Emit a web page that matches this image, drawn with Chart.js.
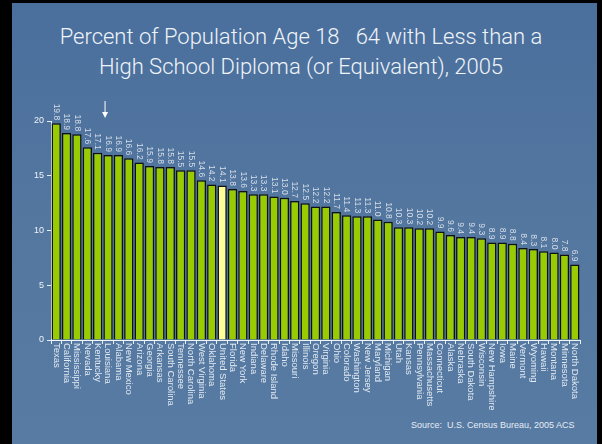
<!DOCTYPE html>
<html>
<head>
<meta charset="utf-8">
<script src="https://cdn.jsdelivr.net/npm/chart.js@4.4.0/dist/chart.umd.min.js"></script>
<style>
  html, body { margin: 0; padding: 0; background: #000; }
  #slide {
    position: absolute; left: 12px; top: 3px; width: 585px; height: 441px;
    background: linear-gradient(180deg, #4a6f9d 0%, #53779f 50%, #587ba3 100%);
  }
  #title {
    position: absolute; left: 0; top: 22px; width: 602px; text-align: center;
    font-family: Roboto, "Liberation Sans", sans-serif; font-size: 22px; font-weight: 300; line-height: 30px;
    color: #f0f4f8;
  }
  #source {
    position: absolute; left: 411px; top: 420px;
    font-family: "Liberation Sans", Arial, sans-serif; font-size: 9px; color: #e6edf5;
  }
  #wrap { position: absolute; left: 0; top: 0; width: 602px; height: 444px; }
</style>
</head>
<body>
<div id="slide"></div>
<div id="title">Percent of Population Age 18&nbsp;&nbsp;&nbsp;64 with Less than a<br>High School Diploma (or Equivalent), 2005</div>
<div id="source">Source:&nbsp; U.S. Census Bureau, 2005 ACS</div>
<div id="wrap"><canvas id="can" width="602" height="444"></canvas></div>
<script>
const states = ["Texas","California","Mississippi","Nevada","Kentucky","Louisiana","Alabama","New Mexico",
  "Arizona","Georgia","Arkansas","South Carolina","Tennessee","North Carolina","West Virginia","Oklahoma",
  "United States","Florida","New York","Indiana","Delaware","Rhode Island","Idaho","Missouri","Illinois",
  "Oregon","Virginia","Ohio","Colorado","Washington","New Jersey","Maryland","Michigan","Utah","Kansas",
  "Pennsylvania","Massachusetts","Connecticut","Alaska","Nebraska","South Dakota","Wisconsin",
  "New Hampshire","Iowa","Maine","Vermont","Wyoming","Hawaii","Montana","Minnesota","North Dakota"]
const percent = [19.8,18.9,18.8,17.6,17.1,16.9,16.9,16.6,16.2,15.9,15.8,15.8,15.5,15.5,14.6,14.2,
  14.1,13.8,13.6,13.3,13.3,13.1,13.0,12.7,12.5,12.2,12.2,11.7,11.4,11.3,11.3,11.0,10.8,10.3,10.3,
  10.2,10.2,9.9,9.6,9.4,9.4,9.3,8.9,8.9,8.8,8.4,8.3,8.1,8.0,7.8,6.9]
const yTicks = [0, 5, 10, 15, 20]

const barColors = states.map(s => s === "United States" ? "#ffff99" : "#99cc00")

// value labels above the bars + state names under the axis, both turned clockwise
const labelPlugin = {
  id: 'labels',
  afterDatasetsDraw(chart) {
    const ctx = chart.ctx
    const meta = chart.getDatasetMeta(0)
    const xs = chart.scales.x
    ctx.save()
    meta.data.forEach((bar, i) => {
      ctx.save()
      ctx.translate(bar.x, bar.y - 3)
      ctx.rotate(Math.PI / 2)
      ctx.font = '8.5px "Liberation Sans", Arial, sans-serif'
      ctx.fillStyle = '#d6dee9'
      ctx.textAlign = 'right'
      ctx.textBaseline = 'middle'
      ctx.fillText(percent[i].toFixed(1), 0, 0)
      ctx.restore()

      ctx.save()
      ctx.translate(xs.getPixelForValue(i), xs.top + 3)
      ctx.rotate(Math.PI / 2)
      ctx.font = '9.5px "Liberation Sans", Arial, sans-serif'
      ctx.fillStyle = '#e3eaf3'
      ctx.textAlign = 'left'
      ctx.textBaseline = 'middle'
      ctx.fillText(states[i], 0, 0)
      ctx.restore()
    })
    // little arrow pointing at Louisiana
    const ax = xs.getPixelForValue(states.indexOf("Louisiana")) - 3
    ctx.strokeStyle = '#ffffff'
    ctx.fillStyle = '#ffffff'
    ctx.lineWidth = 1
    ctx.beginPath()
    ctx.moveTo(ax, 101)
    ctx.lineTo(ax, 115)
    ctx.stroke()
    ctx.beginPath()
    ctx.moveTo(ax - 3, 112)
    ctx.lineTo(ax + 3, 112)
    ctx.lineTo(ax, 118)
    ctx.closePath()
    ctx.fill()
    ctx.restore()
  }
}

const config = {
  type: 'bar',
  data: {
    labels: states,
    datasets: [{
      data: percent,
      backgroundColor: barColors,
      borderColor: '#111111',
      borderWidth: 1.5,
      barPercentage: 0.9,
      categoryPercentage: 1.0
    }]
  },
  options: {
    responsive: false,
    animation: false,
    layout: { padding: { top: 121, right: 22, left: 0, bottom: 0 } },
    plugins: { legend: { display: false }, tooltip: { enabled: false } },
    scales: {
      x: {
        ticks: { display: false },
        grid: { display: true, drawOnChartArea: false, drawTicks: true, tickLength: 4, color: '#e8eef6', offset: true },
        border: { display: true, color: '#f0f4f8', width: 1 },
        afterFit: (s) => { s.height = 104 }
      },
      y: {
        min: 0, max: 20,
        afterBuildTicks: (s) => { s.ticks = yTicks.map(v => ({ value: v })) },
        ticks: { color: '#eef3f8', font: { family: '"Liberation Sans", Arial, sans-serif', size: 9 }, padding: 3 },
        grid: { display: true, drawOnChartArea: false, drawTicks: true, tickLength: 4, color: '#e8eef6' },
        border: { display: true, color: '#f0f4f8', width: 1 },
        afterFit: (s) => { s.width = 51 }
      }
    }
  },
  plugins: [labelPlugin]
}

let chart = new Chart(document.getElementById('can'), config)
</script>
</body>
</html>
